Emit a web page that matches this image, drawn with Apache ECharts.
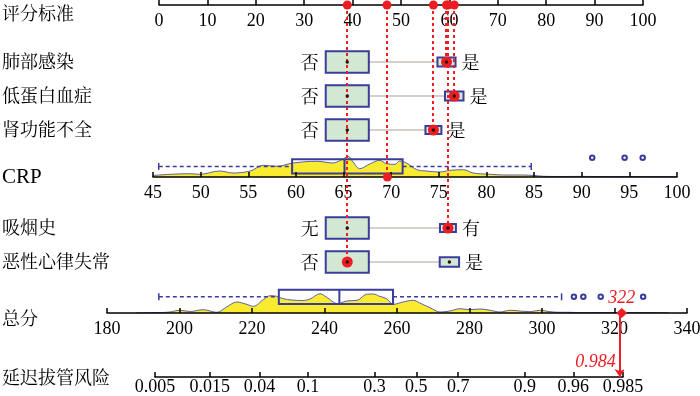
<!DOCTYPE html>
<html><head><meta charset="utf-8">
<script src="https://cdn.jsdelivr.net/npm/echarts@6/dist/echarts.min.js"></script>
<style>html,body{margin:0;padding:0;background:#fff}#c{width:700px;height:396px}</style>
</head><body><div id="c"></div>
<script>
// ---------------- data ----------------
const rowLabels = ['评分标准','肺部感染','低蛋白血症','肾功能不全','CRP','吸烟史','恶性心律失常','总分','延迟拔管风险'];
const catVars = ['肺部感染','低蛋白血症','肾功能不全','吸烟史','恶性心律失常'];
const catLevels = [['否','是'],['否','是'],['否','是'],['无','有'],['否','是']];
const catPoints = [[38.9,59.4],[38.9,61.0],[38.9,56.7],[38.9,59.7],[38.9,60.0]];
const catBoxScale = [[1,0.42],[1,0.43],[1,0.37],[1,0.37],[1,0.45]];
const catSelected = [1,1,1,1,0];
const crpSelected = 69.6, crpSelectedPoints = 47.1;
const crpDensX = [45,46.8,48.9,49.9,52.0,53.4,55.2,56.6,58.0,59.7,62.2,63.9,65.0,65.5,66.0,66.7,67.8,68.8,69.5,70.4,70.9,71.6,72.7,73.7,75.1,76.2,77.6,78.6,80.4,81.8,83.9,85.0,86.0,88,90,93,96,100];
const crpDensY = [1.5,2.7,3.3,2.7,6,4,6,11.7,10.7,14,15.7,14,18.3,20.7,15,8.3,13.3,16.7,13.3,12.7,16,14,7.3,6,5,6.7,7.3,4,2.7,2,2,1.5,0.7,0.5,0.6,0.4,0.5,0.3];
const crpBox = {lo:45.6, q1:59.6, med:65.1, q3:71.2, hi:84.7};
const crpOutliers = [91.1,94.5,96.4];
const totDensX = [188,192,195,197.4,200,203,206.5,210.3,213,215.8,218.5,220.4,223.1,225,226.8,228.6,231,234,236,238.8,240.5,243.7,246,249,251.6,253.5,255,257.1,259,261.7,264.5,266.3,269.1,271.9,274.6,277.4,280.1,282.9,285.7,288.4,291.2,293.9,296.7,299.4,302.2,305,307.7,311.3,316,322,328,335];
const totDensY = [0,0.3,0.5,1,2.7,1.5,3.3,0.7,6,11,8.7,6.7,13.3,17.3,16.7,14.3,13,12.5,14,19.3,16,9.3,12,12.7,18.7,19,17,14.3,8.7,11,12.7,10,5.3,1,2,4.3,3.3,4,2.7,1,2.7,2,1.3,2.7,1.3,0.7,0.7,0.3,0.5,0.3,0.4,0.2];
const totBox = {lo:194.3, q1:227.4, med:244.1, q3:258.9, hi:305.4};
const totOutliers = [308.8,311.4,316.2,327.9];
const totalScore = 322;
const riskTicks = [0.005,0.015,0.04,0.1,0.3,0.5,0.7,0.9,0.96,0.985];
const riskTickLabels = ['0.005','0.015','0.04','0.1','0.3','0.5','0.7','0.9','0.96','0.985'];
const riskValue = 0.984;

// ---------------- layout / style ----------------
const RED = '#ee1d23', BLUE = '#3b3c9b', YEL = '#f9ec30', GREEN = '#d3e8d3';
const NUMFONT = '"Liberation Serif","Times New Roman",serif';
const CJK = '"Noto Serif CJK SC","Noto Sans CJK SC",sans-serif';
const catRowY = [57, 91, 125, 223, 257]; // offsets below the points axis (px units)
const crpRowY = 172;
const BOX_W = 8.9, BOX_H = 21.5;
const logit = p => Math.log(p/(1-p));

const axisBase = (pos) => ({
  position: pos, z: 5,
  axisLine: {show: true, onZero: false, lineStyle: {color: '#000', width: 1.5}},
  axisTick: {show: true, inside: pos === 'bottom', length: 5, lineStyle: {color: '#000', width: 1.5}},
  axisLabel: {inside: pos === 'top', margin: 7, color: '#000', fontFamily: NUMFONT, fontSize: 18},
  splitLine: {show: false}
});

const chart = echarts.init(document.getElementById('c'), null, {renderer: 'canvas'});

function renderCat(params, api) {
  const i = api.value(0);
  const yOff = catRowY[i];
  const boxes = catPoints[i].map((p, k) => {
    const s = catBoxScale[i][k];
    const w = BOX_W * s, h = BOX_H * s;
    const a = api.coord([p - w/2, yOff]), b = api.coord([p + w/2, yOff]);
    return {x0: a[0], x1: b[0], yc: a[1], h: h};
  });
  const ch = [{type: 'line', shape: {x1: boxes[0].x1, y1: boxes[0].yc, x2: boxes[1].x0, y2: boxes[1].yc},
               style: {stroke: '#c8c0bc', lineWidth: 1.5}}];
  boxes.forEach((b, k) => {
    ch.push({type: 'rect', shape: {x: b.x0, y: b.yc - b.h/2, width: b.x1 - b.x0, height: b.h},
             style: {fill: GREEN, stroke: BLUE, lineWidth: 2}});
    ch.push({type: 'text', style: {text: catLevels[i][k], x: k === 0 ? b.x0 - 7 : b.x1 + 6, y: b.yc,
             align: k === 0 ? 'right' : 'left', verticalAlign: 'middle', font: '18px ' + CJK, fill: '#000'}});
  });
  return {type: 'group', children: ch};
}

function boxRenderer(box, yc, h) {
  return function (params, api) {
    const p = v => api.coord([v, yc]);
    const lo = p(box.lo), q1 = p(box.q1), md = p(box.med), q3 = p(box.q3), hi = p(box.hi);
    const top = api.coord([box.q1, yc + h/2])[1], bot = api.coord([box.q1, yc - h/2])[1];
    const y = lo[1];
    const dash = {stroke: BLUE, lineWidth: 1.5, lineDash: [4, 3]};
    const solid = {stroke: BLUE, lineWidth: 1.5};
    return {type: 'group', children: [
      {type: 'line', shape: {x1: lo[0], y1: y, x2: q1[0], y2: y}, style: dash},
      {type: 'line', shape: {x1: q3[0], y1: y, x2: hi[0], y2: y}, style: dash},
      {type: 'line', shape: {x1: lo[0], y1: y - 3.5, x2: lo[0], y2: y + 3.5}, style: solid},
      {type: 'line', shape: {x1: hi[0], y1: y - 3.5, x2: hi[0], y2: y + 3.5}, style: solid},
      {type: 'rect', shape: {x: q1[0], y: top, width: q3[0] - q1[0], height: bot - top}, style: {fill: 'none', stroke: BLUE, lineWidth: 2}},
      {type: 'line', shape: {x1: md[0], y1: top, x2: md[0], y2: bot}, style: {stroke: BLUE, lineWidth: 2}}
    ]};
  };
}

// red dotted guide lines drawn through the points scale
function renderGuide(params, api) {
  const a = api.coord([api.value(0), 0]);
  const b = api.coord([api.value(0), api.value(1)]);
  const x = Math.round(a[0]);
  return {type: 'line', shape: {x1: x, y1: a[1], x2: x, y2: b[1]},
          style: {stroke: RED, lineWidth: 2, lineDash: [3, 3]}};
}

const selPts = catVars.map((v, i) => catPoints[i][catSelected[i]]);
const guideData = selPts.map((p, i) => [p, catRowY[i]]).concat([[crpSelectedPoints, crpRowY]]);
const topDots = selPts.concat([crpSelectedPoints]).map(p => [p, 0]);
const rowDots = selPts.map((p, i) => [p, catRowY[i]]);
const centerDots = [];
catPoints.forEach((lv, i) => lv.forEach(p => centerDots.push([p, catRowY[i]])));

const rowLabelY = [14, 62, 96, 130, 178, 228, 262, 319, 378];

const option = {
  animation: false,
  backgroundColor: '#fff',
  grid: [
    {left: 159, right: 57, top: 5, height: 262, outerBoundsMode: 'none'},
    {left: 153, right: 23, top: 147, height: 30, outerBoundsMode: 'none'},
    {left: 107, right: 13, top: 283, height: 30, outerBoundsMode: 'none'},
    {left: 155, right: 77, top: 313, height: 64, outerBoundsMode: 'none'}
  ],
  xAxis: [
    Object.assign(axisBase('top'), {gridIndex: 0, type: 'value', min: 0, max: 100, interval: 10}),
    Object.assign(axisBase('bottom'), {gridIndex: 1, type: 'value', min: 45, max: 100, interval: 5}),
    Object.assign(axisBase('bottom'), {gridIndex: 2, type: 'value', min: 180, max: 340, interval: 20}),
    (function () {
      const a = axisBase('bottom');
      const cv = riskTicks.map(logit);
      a.gridIndex = 3; a.type = 'value'; a.min = cv[0]; a.max = cv[cv.length - 1];
      a.axisTick.customValues = cv;
      a.axisLabel.customValues = cv;
      a.axisLabel.margin = 1;
      a.axisLabel.fontSize = 18;
      a.axisLabel.formatter = v => {
        let best = 0;
        cv.forEach((c, k) => { if (Math.abs(c - v) < Math.abs(cv[best] - v)) best = k; });
        return riskTickLabels[best];
      };
      return a;
    })()
  ],
  yAxis: [
    {gridIndex: 0, type: 'value', min: 0, max: 262, inverse: true, show: false},
    {gridIndex: 1, type: 'value', min: 0, max: 30, show: false},
    {gridIndex: 2, type: 'value', min: 0, max: 30, show: false},
    {gridIndex: 3, type: 'value', min: 0, max: 1, show: false}
  ],
  graphic: rowLabels.map((t, i) => ({
    type: 'text', left: 2, top: rowLabelY[i] - (t === 'CRP' ? 11 : 10), z: 10,
    style: {text: t, font: (t === 'CRP' ? '21px ' + NUMFONT : '18px ' + CJK), fill: '#000'}
  })),
  series: [
    {type: 'custom', xAxisIndex: 0, yAxisIndex: 0, z: 2, renderItem: renderCat,
     data: catVars.map((v, i) => [i])},
    // CRP row
    {type: 'line', xAxisIndex: 1, yAxisIndex: 1, z: 1, smooth: 0.35, showSymbol: false,
     lineStyle: {color: '#5a5db3', width: 1}, areaStyle: {color: YEL, opacity: 1},
     data: crpDensX.map((x, k) => [x, crpDensY[k]])},
    {type: 'custom', xAxisIndex: 1, yAxisIndex: 1, z: 3, renderItem: boxRenderer(crpBox, 10.6, 14.3), data: [[crpBox.med, 10.6]]},
    {type: 'scatter', xAxisIndex: 1, yAxisIndex: 1, z: 3, symbol: 'emptyCircle', symbolSize: 4.5,
     itemStyle: {color: BLUE, borderWidth: 1.5, opacity: 1}, data: crpOutliers.map(v => [v, 19.3])},
    // total row
    {type: 'line', xAxisIndex: 2, yAxisIndex: 2, z: 1, smooth: 0.35, showSymbol: false,
     lineStyle: {color: '#5a5db3', width: 1}, areaStyle: {color: YEL, opacity: 1},
     data: totDensX.map((x, k) => [x, totDensY[k]])},
    {type: 'custom', xAxisIndex: 2, yAxisIndex: 2, z: 3, renderItem: boxRenderer(totBox, 16.2, 14.3), data: [[totBox.med, 16.2]]},
    {type: 'scatter', xAxisIndex: 2, yAxisIndex: 2, z: 3, symbol: 'emptyCircle', symbolSize: 4.5,
     itemStyle: {color: BLUE, borderWidth: 1.5, opacity: 1}, data: totOutliers.map(v => [v, 16.3])},
    // guides
    {type: 'custom', xAxisIndex: 0, yAxisIndex: 0, z: 6, renderItem: renderGuide, data: guideData},
    {type: 'scatter', xAxisIndex: 0, yAxisIndex: 0, z: 7, clip: false, symbolSize: 9, itemStyle: {color: RED, opacity: 1}, data: topDots},
    {type: 'scatter', xAxisIndex: 0, yAxisIndex: 0, z: 7, clip: false, symbolSize: 11, itemStyle: {color: RED, opacity: 1}, data: rowDots},
    {type: 'scatter', xAxisIndex: 0, yAxisIndex: 0, z: 8, clip: false, symbolSize: 3.5, itemStyle: {color: '#2a1010', opacity: 1}, data: centerDots},
    {type: 'scatter', xAxisIndex: 1, yAxisIndex: 1, z: 8, clip: false, symbolSize: 9, itemStyle: {color: RED, opacity: 1}, data: [[crpSelected, 0]]},
    // total score marker + arrow
    {type: 'scatter', xAxisIndex: 2, yAxisIndex: 2, z: 8, clip: false, symbol: 'diamond', symbolSize: [11, 10],
     itemStyle: {color: RED, opacity: 1}, data: [[totalScore, 0]],
     label: {show: true, position: 'top', distance: 1, formatter: String(totalScore), color: RED,
             fontFamily: NUMFONT, fontStyle: 'italic', fontSize: 18}},
    {type: 'lines', coordinateSystem: 'cartesian2d', xAxisIndex: 3, yAxisIndex: 3, z: 8, polyline: false,
     symbol: ['none', 'arrow'], symbolSize: 8,
     lineStyle: {color: RED, width: 2, type: 'solid', opacity: 1},
     data: [{coords: [[logit(riskValue), 1], [logit(riskValue), 0]]}]},
    {type: 'scatter', xAxisIndex: 3, yAxisIndex: 3, z: 8, clip: false, symbolSize: 0,
     itemStyle: {opacity: 1},
     data: [[logit(riskValue), 0]],
     label: {show: true, position: 'left', distance: 4, offset: [0, -15], formatter: String(riskValue), color: RED,
             fontFamily: NUMFONT, fontStyle: 'italic', fontSize: 18}}
  ]
};
chart.setOption(option);
</script></body></html>
